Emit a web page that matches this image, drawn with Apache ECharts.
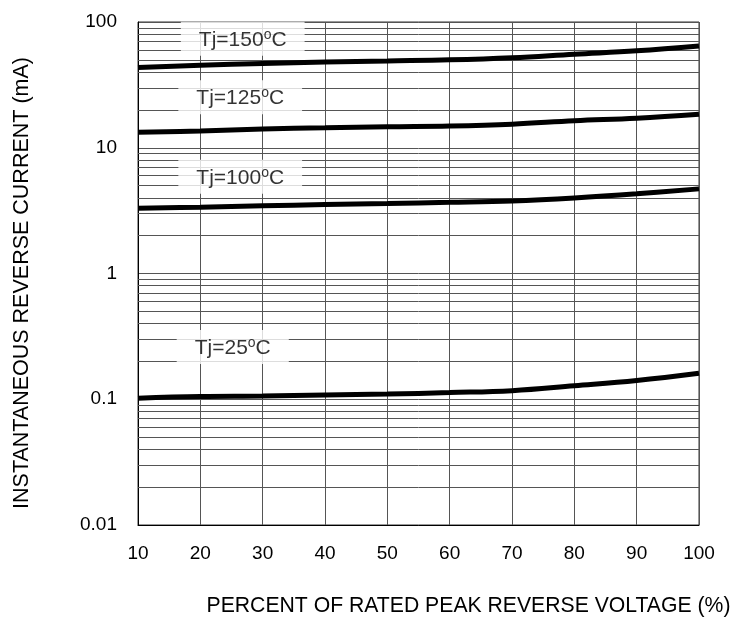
<!DOCTYPE html>
<html>
<head>
<meta charset="utf-8">
<script src="https://cdn.jsdelivr.net/npm/echarts@6/dist/echarts.min.js"></script>
<style>html,body{margin:0;padding:0;background:#fff}#c{width:740px;height:620px}</style>
</head>
<body>
<div id="c"></div>
<script>
const xValues = [10, 20, 30, 40, 50, 60, 70, 80, 90, 100];
const tj150 = [43.5, 45.3, 46.8, 48, 49, 50, 52, 55.5, 59, 64.5];
const tj125 = [13.3, 13.6, 14.1, 14.4, 14.7, 14.9, 15.4, 16.4, 17.2, 18.5];
const tj100 = [3.31, 3.37, 3.45, 3.53, 3.6, 3.68, 3.78, 3.99, 4.3, 4.71];
const tj25 = [0.102, 0.105, 0.106, 0.108, 0.110, 0.113, 0.117, 0.128, 0.141, 0.161];
const labelNames = ['150', '125', '100', '25'];
const labelX = [26.8, 26.4, 26.4, 25.2];
const labelY = [73.5, 25.2, 5.87, 0.26];
const minorGrid = [0.02,0.03,0.04,0.05,0.06,0.07,0.08,0.09,
                   0.2,0.3,0.4,0.5,0.6,0.7,0.8,0.9,
                   2,3,4,5,6,7,8,9,
                   20,30,40,50,60,70,80,90];
const xTitle = 'PERCENT OF RATED PEAK REVERSE VOLTAGE (%)';
const yTitle = 'INSTANTANEOUS REVERSE CURRENT (mA)';

const FONT = 'Liberation Sans, Arial, sans-serif';
const chart = echarts.init(document.getElementById('c'), null, {renderer: 'canvas'});

function curve(name, vals) {
  return {
    name: name, type: 'line', smooth: 0.4, symbol: 'none', z: 5, zlevel: 1,
    lineStyle: {color: '#000', width: 5},
    data: xValues.map((x, i) => [x, vals[i]])
  };
}

chart.setOption({
  animation: false,
  backgroundColor: '#fff',
  grid: {left: 138, right: 41, top: 22, bottom: 95, show: true, borderColor: '#333', borderWidth: 1},
  xAxis: {
    type: 'value', min: 10, max: 100, interval: 10,
    axisLine: {show: true, lineStyle: {color: '#000', width: 1}},
    axisTick: {show: false},
    axisLabel: {color: '#000', fontSize: 19, fontFamily: FONT, margin: 19},
    splitLine: {show: true, lineStyle: {color: '#555', width: 1}}
  },
  yAxis: {
    type: 'log', logBase: 10, min: 0.01, max: 100,
    axisLine: {show: true, lineStyle: {color: '#000', width: 1}},
    axisTick: {show: false},
    axisLabel: {color: '#000', fontSize: 19, fontFamily: FONT, margin: 21,
      formatter: v => String(v)},
    splitLine: {show: true, lineStyle: {color: '#555', width: 1}}
  },
  graphic: [
    {type: 'text', x: 468.5, y: 606, style: {text: xTitle, fontSize: 21.2, fontFamily: FONT, fill: '#000', textAlign: 'center', textVerticalAlign: 'middle'}},
    {type: 'text', x: 22, y: 283, rotation: Math.PI / 2, style: {text: yTitle, fontSize: 21.5, fontFamily: FONT, fill: '#000', textAlign: 'center', textVerticalAlign: 'middle'}}
  ],
  series: [
    {
      name: 'minor', type: 'line', data: [], z: 2,
      markLine: {
        silent: true, symbol: ['none', 'none'], animation: false,
        label: {show: false},
        lineStyle: {color: '#555', width: 1, type: 'solid'},
        emphasis: {disabled: true},
        data: minorGrid.map(v => ({yAxis: v}))
      }
    },
    {
      name: 'labels', type: 'scatter', symbolSize: 0, z: 4, zlevel: 1, silent: true,
      data: labelX.map((x, i) => ({value: [x, labelY[i]], name: labelNames[i]})),
      label: {
        show: true, position: 'inside',
        formatter: p => '{n|Tj=' + p.name + '}{s|o}{n|C}',
        backgroundColor: '#fff', padding: [6, 18, 4, 18],
        rich: {
          n: {fontSize: 21, fontFamily: FONT, color: '#000', lineHeight: 24},
          s: {fontSize: 14, fontFamily: FONT, color: '#000', lineHeight: 14, verticalAlign: 'top'}
        }
      }
    },
    curve('Tj=150', tj150),
    curve('Tj=125', tj125),
    curve('Tj=100', tj100),
    curve('Tj=25', tj25)
  ]
});
</script>
</body>
</html>
